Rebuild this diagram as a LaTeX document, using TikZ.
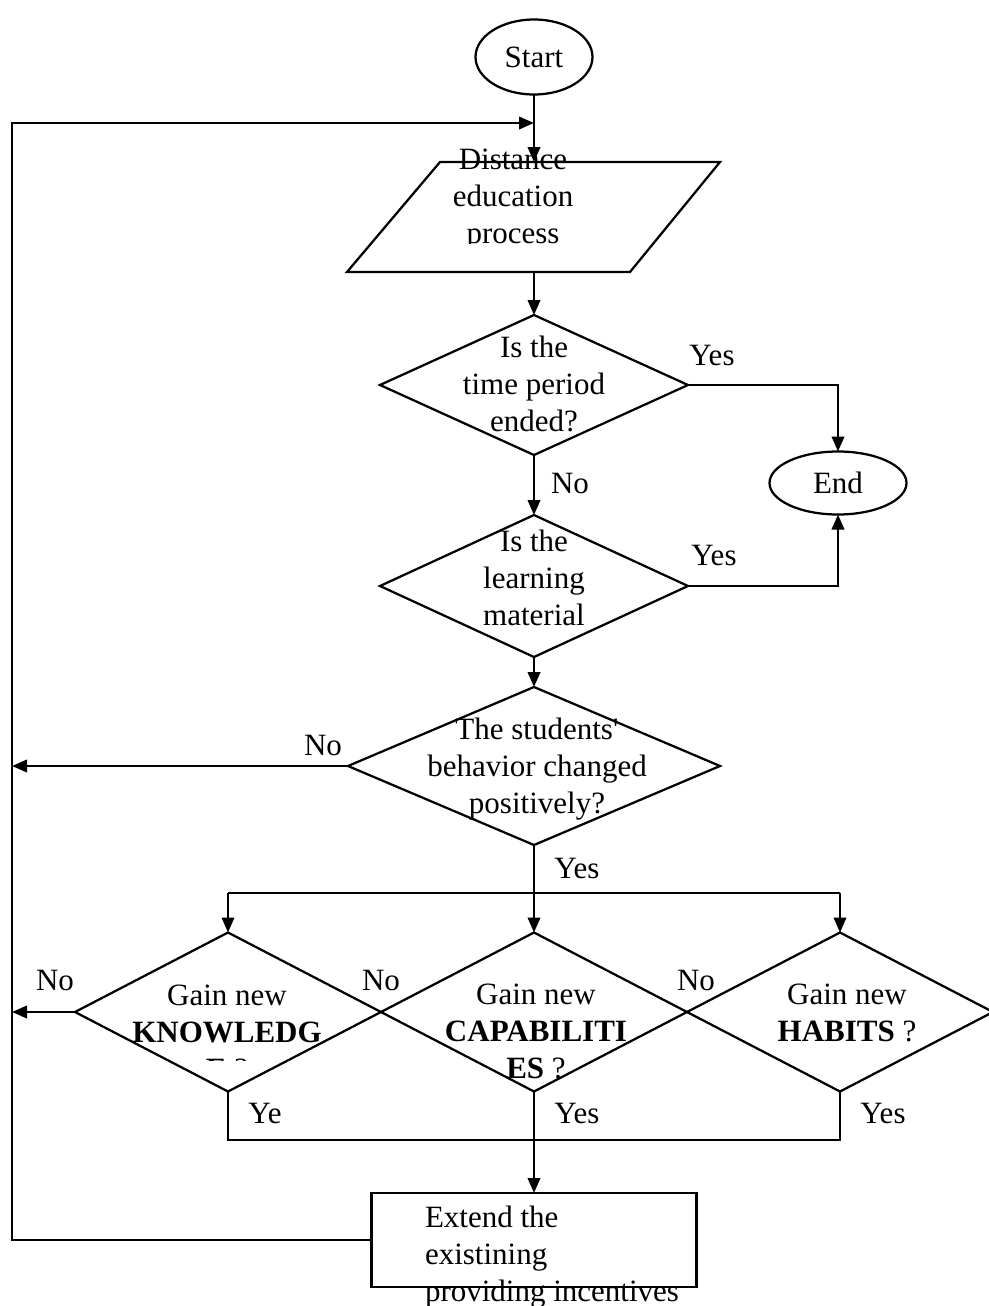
\documentclass[tikz,border=0pt]{standalone}
\usepackage{fontspec}
\setmainfont{Liberation Serif}
\usetikzlibrary{arrows.meta,shapes.geometric}
\tikzset{
  fcline/.style={line width=0.9pt},
  fcarr/.style={fcline, -{Triangle[length=6pt,width=5pt]}},
  fcterm/.style={draw, fcline, ellipse, inner sep=0pt, outer sep=0pt},
  fcdecide/.style={draw, fcline, diamond, inner sep=0pt, outer sep=0pt},
  fcproc/.style={draw, fcline, rectangle, inner sep=0pt, outer sep=0pt},
  fctxt/.style={align=center, inner sep=0pt},
  fclbl/.style={inner sep=0pt}
}

\begin{document}
\begin{tikzpicture}[x=0.4pt, y=-0.4pt, font=\fontsize{12.4}{14.8}\selectfont]
  \useasboundingbox (0,0) rectangle (988,1306);
  \node[fcterm, minimum width=46.8pt, minimum height=30pt] (start) at (534,57) {Start};
  \coordinate (rail) at (12,123);
  \coordinate (partop) at (534,162);
  \coordinate (parbot) at (534,272);
  \draw[fcline] (440,162) -- (720,162) -- (630,272) -- (347,272) -- cycle;
  \begin{scope}
    \clip (300,100) rectangle (760,243);
    \node[fctxt] (partxt) at (513,200) {Distance\\education\\process};
  \end{scope}
  \node[fcdecide, minimum width=123.2pt, minimum height=56pt] (d1) at (534,385) {};
  \node[fctxt] (d1txt) at (534,384) {Is the\\time period\\ended?};
  \node[fcterm, minimum width=54.8pt, minimum height=25.2pt] (end) at (838,483) {End};
  \node[fcdecide, minimum width=123.2pt, minimum height=56.8pt] (d2) at (534,586) {};
  \node[fctxt] (d2txt) at (534,578) {Is the\\learning\\material};
  \node[fcdecide, minimum width=148.8pt, minimum height=63.2pt] (d3) at (534,766) {};
  \node[fctxt] (d3txt) at (537,769) {The students\textquotesingle\\behavior changed\\positively?};
  \node[fcdecide, minimum width=122.4pt, minimum height=63.6pt] (dk) at (228,1012) {};
  \node[fcdecide, minimum width=122.4pt, minimum height=63.6pt] (dc) at (534,1012) {};
  \node[fcdecide, minimum width=122.4pt, minimum height=63.6pt] (dh) at (840,1012) {};
  \begin{scope}
    \clip (60,950) rectangle (400,1060);
    \node[fctxt] (dktxt) at (227,1032) {Gain new\\\textbf{KNOWLEDG}\\\textbf{E} ?};
  \end{scope}
  \node[fctxt] (dctxt) at (536,1031) {Gain new\\\textbf{CAPABILITI}\\\textbf{ES} ?};
  \node[fctxt] (dhtxt) at (847,1013) {Gain new\\\textbf{HABITS} ?};
  \node[fcproc, minimum width=130pt, minimum height=37.6pt] (ext) at (534,1240) {};
  \node[fctxt, align=left] (exttxt) at (552,1257) {Extend the\\existining\\providing incentives};
  \coordinate (split) at (534,893);
  \coordinate (merge) at (534,1140);

  \draw[fcarr] (start.south) -- (partop);
  \draw[fcarr] (parbot) -- (d1.north);
  \draw[fcarr] (d1.south) -- (d2.north);
  \draw[fcarr] (d2.south) -- (d3.north);
  \draw[fcarr] (d1.east) -| (end.north);
  \draw[fcarr] (d2.east) -| (end.south);
  \draw[fcarr] (d3.west) -- (d3.west -| rail);
  \draw[fcline] (d3.south) -- (split);
  \draw[fcline] (dk.north |- split) -- (dh.north |- split);
  \draw[fcarr] (dk.north |- split) -- (dk.north);
  \draw[fcarr] (split) -- (dc.north);
  \draw[fcarr] (dh.north |- split) -- (dh.north);
  \draw[fcarr] (dk.west) -- (dk.west -| rail);
  \draw[fcline] (dk.south) |- (dh.south |- merge) -- (dh.south);
  \draw[fcline] (dc.south) -- (merge);
  \draw[fcarr] (merge) -- (ext.north);
  \draw[fcarr] (ext.west) -| (rail) -- (start.south |- rail);

  \node[fclbl] (yes1) at (712,355) {Yes};
  \node[fclbl] (no1) at (570,483) {No};
  \node[fclbl] (yes2) at (714,555) {Yes};
  \node[fclbl] (no2) at (323,745) {No};
  \node[fclbl] (yes3) at (577,868) {Yes};
  \node[fclbl] (no3) at (55,980) {No};
  \node[fclbl] (no4) at (381,980) {No};
  \node[fclbl] (no5) at (696,980) {No};
  \node[fclbl] (yes4) at (265,1113) {Ye};
  \node[fclbl] (yes5) at (577,1113) {Yes};
  \node[fclbl] (yes6) at (883,1113) {Yes};
\end{tikzpicture}
\end{document}
